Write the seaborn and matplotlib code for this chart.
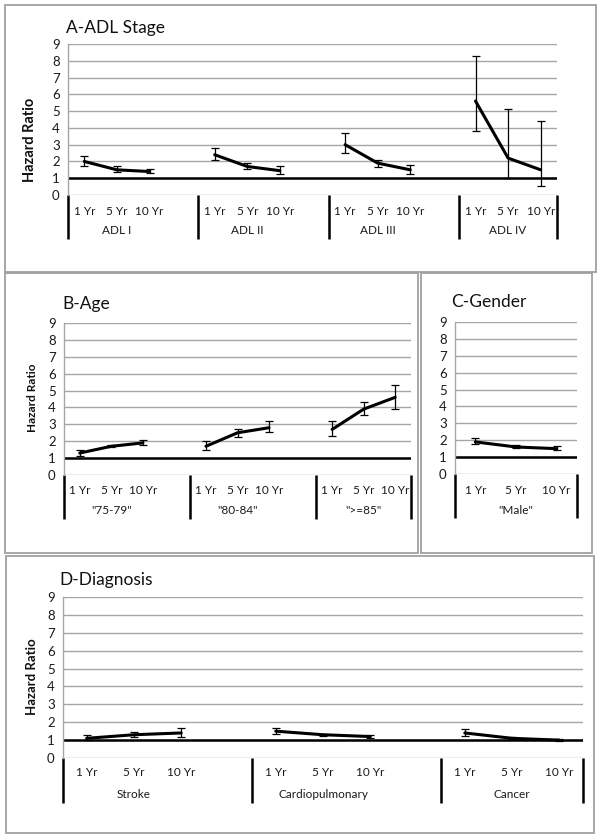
import matplotlib
matplotlib.use("Agg")
import matplotlib.pyplot as plt
import matplotlib.transforms as mtransforms
from matplotlib.patches import Rectangle
import seaborn as sns
import pandas as pd

# ---------------------------------------------------------------
# datos (hazard ratio, IC inferior, IC superior) por 1/5/10 años
# ---------------------------------------------------------------
PERIODOS = ["1 Yr", "5 Yr", "10 Yr"]

GRUPOS_A = ["ADL I", "ADL II", "ADL III", "ADL IV"]
HR_A = [2.0, 1.5, 1.4, 2.4, 1.7, 1.45, 3.0, 1.9, 1.5, 5.6, 2.2, 1.5]
LO_A = [1.7, 1.4, 1.3, 2.1, 1.55, 1.25, 2.5, 1.65, 1.25, 3.8, 1.0, 0.55]
HI_A = [2.3, 1.7, 1.55, 2.8, 1.9, 1.7, 3.7, 2.1, 1.8, 8.3, 5.1, 4.4]

GRUPOS_B = ['"75-79"', '"80-84"', '">=85"']
HR_B = [1.3, 1.7, 1.9, 1.7, 2.5, 2.8, 2.7, 3.9, 4.6]
LO_B = [1.1, 1.65, 1.75, 1.5, 2.25, 2.55, 2.3, 3.55, 3.9]
HI_B = [1.5, 1.75, 2.1, 2.0, 2.7, 3.2, 3.2, 4.3, 5.3]

GRUPOS_C = ['"Male"']
HR_C = [1.9, 1.6, 1.5]
LO_C = [1.75, 1.55, 1.4]
HI_C = [2.15, 1.7, 1.65]

GRUPOS_D = ["Stroke", "Cardiopulmonary", "Cancer"]
HR_D = [1.1, 1.3, 1.4, 1.5, 1.3, 1.2, 1.4, 1.1, 1.0]
LO_D = [1.0, 1.2, 1.2, 1.35, 1.25, 1.1, 1.25, 1.05, 0.95]
HI_D = [1.3, 1.45, 1.7, 1.7, 1.35, 1.3, 1.6, 1.15, 1.05]

EJE_Y = list(range(10))

# estilo
sns.set_style("white")
plt.rcParams["font.family"] = ["Lato", "DejaVu Sans"]

ANCHO, ALTO = 602, 840
GRIS_REJILLA = "#a6a6a6"
GRIS_MARCO = "#a0a0a0"
COLOR_TEXTO = "#1a1a1a"

figura = plt.figure(figsize=(6.02, 8.40), dpi=100)
figura.patch.set_facecolor("white")


def marco(x0, y0, x1, y1):
    figura.patches.append(Rectangle((x0 / ANCHO, 1 - y1 / ALTO), (x1 - x0) / ANCHO, (y1 - y0) / ALTO,
                                    transform=figura.transFigure, fill=False,
                                    edgecolor=GRIS_MARCO, linewidth=1.3))


def texto(x, y, s, **kw):
    figura.text(x / ANCHO, 1 - y / ALTO, s, **kw)


def panel(izq, der, arriba, abajo, grupos, hr, lo, hi, fila_cat, fila_grupo, fin_sep):
    ax = figura.add_axes([izq / ANCHO, 1 - abajo / ALTO, (der - izq) / ANCHO, (abajo - arriba) / ALTO])
    alto_px = abajo - arriba

    filas = []
    for g, nombre in enumerate(grupos):
        for j, per in enumerate(PERIODOS):
            k = g * 3 + j
            filas.append({"pos": g * 4 + j, "grupo": nombre, "periodo": per,
                          "hr": hr[k], "lo": lo[k], "hi": hi[k]})
    df = pd.DataFrame(filas)
    n = 4 * (len(grupos) - 1) + 3

    # rejilla
    for v in EJE_Y:
        ax.axhline(v, color=GRIS_REJILLA, linewidth=1.0, zorder=0)
    ax.axhline(1, color="black", linewidth=1.8, zorder=1)

    ax.errorbar(df["pos"], df["hr"], yerr=[df["hr"] - df["lo"], df["hi"] - df["hr"]],
                fmt="none", ecolor="black", elinewidth=0.9, capsize=2.8, capthick=0.9, zorder=3)
    sns.lineplot(data=df, x="pos", y="hr", units="grupo", estimator=None,
                 color="black", linewidth=2.2, ax=ax, zorder=4)

    ax.set_xlim(-0.5, n - 0.5)
    ax.set_ylim(0, 9)
    ax.set_yticks(EJE_Y)
    ax.set_yticklabels([str(v) for v in EJE_Y], fontsize=9.5, color=COLOR_TEXTO)
    ax.set_xticks(df["pos"])
    ax.set_xticklabels(df["periodo"], fontsize=8.5, color=COLOR_TEXTO)
    ax.tick_params(axis="both", length=0)
    ax.tick_params(axis="x", pad=(fila_cat - abajo) * 0.72 - 3.3)
    ax.tick_params(axis="y", pad=6)
    ax.set_xlabel("")
    ax.set_ylabel("")
    for lado in ["top", "right", "bottom"]:
        ax.spines[lado].set_visible(False)
    ax.spines["left"].set_color(GRIS_REJILLA)
    ax.spines["left"].set_linewidth(1.0)

    mezcla = mtransforms.blended_transform_factory(ax.transData, ax.transAxes)
    y_fin = -(fin_sep - abajo) / alto_px
    y_grupo = -(fila_grupo - abajo) / alto_px
    separadores = [-0.5] + [g * 4 - 0.5 for g in range(1, len(grupos))] + [n - 0.5]
    for s in separadores:
        ax.plot([s, s], [0, y_fin], transform=mezcla, color="black", linewidth=1.8,
                clip_on=False, solid_capstyle="butt")
    for g, nombre in enumerate(grupos):
        centro = g * 4 + 1
        ax.text(centro, y_grupo, nombre, transform=mezcla, ha="center", va="center",
                fontsize=8.5, color=COLOR_TEXTO)
    return ax


# marcos de los paneles
marco(5, 5, 596, 272)
marco(5, 273, 418, 553)
marco(421, 273, 592, 553)
marco(6, 556, 594, 833)

panel(68, 557, 44, 195, GRUPOS_A, HR_A, LO_A, HI_A, 211, 230, 239)
panel(64, 411, 323, 475, GRUPOS_B, HR_B, LO_B, HI_B, 490, 511, 519)
panel(455, 577, 322, 474, GRUPOS_C, HR_C, LO_C, HI_C, 490, 510, 518)
panel(63, 583, 597, 758, GRUPOS_D, HR_D, LO_D, HI_D, 772, 794, 803)

# titulos
for x, y, letra, resto in [(66, 28, "A", "-ADL Stage"), (62, 304, "B", "-Age"),
                           (451, 302, "C", "-Gender"), (59, 580, "D", "-Diagnosis")]:
    texto(x, y, letra + resto, fontsize=12.5, va="center", ha="left", color="#111111")

# etiqueta del eje y
for x, y, tam in [(30, 140, 10.5), (33, 398, 8.5), (32, 677, 9.5)]:
    texto(x, y, "Hazard Ratio", rotation=90, fontsize=tam, fontweight="bold",
          va="center", ha="center", color="#111111")

figura.savefig("out.png", dpi=100, facecolor="white")
plt.close(figura)
